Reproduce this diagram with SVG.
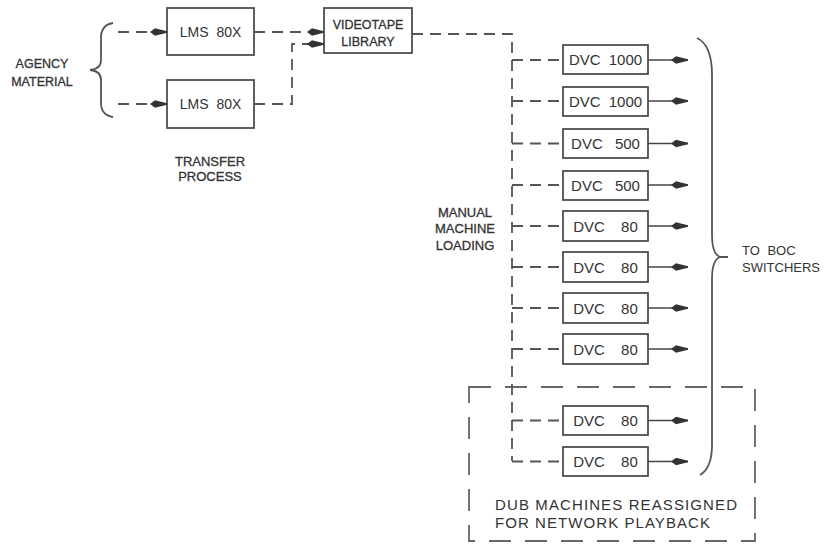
<svg xmlns="http://www.w3.org/2000/svg" width="824" height="544" viewBox="0 0 824 544">
<defs>
<marker id="ah" markerWidth="18" markerHeight="10" refX="17" refY="5" orient="auto" markerUnits="userSpaceOnUse">
<path d="M0,5 L5,1.3 L17,4.2 L17,5.8 L5,8.7 Z" fill="#333"/>
</marker>
</defs>
<style>
.box{fill:#fff;stroke:#444;stroke-width:1.7}
.t{font-family:"Liberation Sans",Arial,sans-serif;fill:#333}
.dl{fill:none;stroke:#555;stroke-width:1.8;stroke-dasharray:11 7}
.sl{fill:none;stroke:#444;stroke-width:1.6}
.br{fill:none;stroke:#555;stroke-width:1.8}
.grp{fill:none;stroke:#666;stroke-width:1.8;stroke-dasharray:22 14}
</style>
<rect width="824" height="544" fill="#fff"/>

<g id="agency">
<text class="t" x="42" y="68" font-size="12.5" text-anchor="middle" stroke="#333" stroke-width="0.3">AGENCY</text>
<text class="t" x="42" y="86" font-size="12.5" text-anchor="middle" stroke="#333" stroke-width="0.3">MATERIAL</text>
<path class="br" d="M113,23 Q101,25 101,38 L101,60 Q101,69 90,70 Q101,71 101,80 L101,103 Q101,115 113,117"/>
</g>

<g id="lms1">
<rect class="box" x="167" y="8" width="87" height="47"/>
<text class="t" x="210.5" y="37" font-size="14" text-anchor="middle" word-spacing="4">LMS 80X</text>
</g>
<g id="lms2">
<rect class="box" x="167" y="80" width="87" height="48"/>
<text class="t" x="210.5" y="109" font-size="14" text-anchor="middle" word-spacing="4">LMS 80X</text>
</g>
<g id="transfer">
<text class="t" x="210" y="166" font-size="13" text-anchor="middle" stroke="#333" stroke-width="0.3">TRANSFER</text>
<text class="t" x="210" y="181" font-size="13" text-anchor="middle" stroke="#333" stroke-width="0.3">PROCESS</text>
</g>
<g id="library">
<rect class="box" x="324" y="8" width="88" height="45"/>
<text class="t" x="368" y="29" font-size="12.5" text-anchor="middle" stroke="#333" stroke-width="0.3">VIDEOTAPE</text>
<text class="t" x="368" y="46" font-size="12.5" text-anchor="middle" stroke="#333" stroke-width="0.3">LIBRARY</text>
</g>
<g id="manual">
<text class="t" x="465" y="217" font-size="13" text-anchor="middle" stroke="#333" stroke-width="0.3">MANUAL</text>
<text class="t" x="465" y="233" font-size="13" text-anchor="middle" stroke="#333" stroke-width="0.3">MACHINE</text>
<text class="t" x="465" y="250" font-size="13" text-anchor="middle" stroke="#333" stroke-width="0.3">LOADING</text>
</g>

<g id="dvc1"><rect class="box" x="563" y="45" width="85" height="29"/><text class="t" x="605.5" y="65" font-size="15" text-anchor="middle" word-spacing="4">DVC 1000</text></g>
<g id="dvc2"><rect class="box" x="563" y="87" width="85" height="29"/><text class="t" x="605.5" y="107" font-size="15" text-anchor="middle" word-spacing="4">DVC 1000</text></g>
<g id="dvc3"><rect class="box" x="563" y="129" width="85" height="29"/><text class="t" x="605.5" y="149" font-size="15" text-anchor="middle" word-spacing="8">DVC 500</text></g>
<g id="dvc4"><rect class="box" x="563" y="171" width="85" height="29"/><text class="t" x="605.5" y="191" font-size="15" text-anchor="middle" word-spacing="8">DVC 500</text></g>
<g id="dvc5"><rect class="box" x="563" y="211" width="85" height="30"/><text class="t" x="605.5" y="231.5" font-size="15" text-anchor="middle" word-spacing="12">DVC 80</text></g>
<g id="dvc6"><rect class="box" x="563" y="252" width="85" height="30"/><text class="t" x="605.5" y="272.5" font-size="15" text-anchor="middle" word-spacing="12">DVC 80</text></g>
<g id="dvc7"><rect class="box" x="563" y="293" width="85" height="30"/><text class="t" x="605.5" y="313.5" font-size="15" text-anchor="middle" word-spacing="12">DVC 80</text></g>
<g id="dvc8"><rect class="box" x="563" y="334" width="85" height="30"/><text class="t" x="605.5" y="354.5" font-size="15" text-anchor="middle" word-spacing="12">DVC 80</text></g>
<g id="dvc9"><rect class="box" x="563" y="406" width="85" height="29"/><text class="t" x="605.5" y="426" font-size="15" text-anchor="middle" word-spacing="12">DVC 80</text></g>
<g id="dvc10"><rect class="box" x="563" y="447" width="85" height="29"/><text class="t" x="605.5" y="467" font-size="15" text-anchor="middle" word-spacing="12">DVC 80</text></g>

<g id="switchers">
<path class="br" d="M697,38 Q712,45 712,75 L712,235 Q712,254 720,257 L728,257 M720,257 Q712,260 712,279 L712,445 Q712,468 700,475"/>
<text class="t" x="742" y="255" font-size="13" word-spacing="4">TO BOC</text>
<text class="t" x="742" y="272" font-size="13">SWITCHERS</text>
</g>

<g id="dub">
<rect class="grp" x="469" y="387" width="286" height="154"/>
<text class="t" x="495" y="510" font-size="15" textLength="242" lengthAdjust="spacing">DUB MACHINES REASSIGNED</text>
<text class="t" x="495" y="528" font-size="15" textLength="215" lengthAdjust="spacing">FOR NETWORK PLAYBACK</text>
</g>

<g id="connectors">
<path class="dl" d="M118,32 H167" marker-end="url(#ah)"/>
<path class="dl" d="M118,104 H167" marker-end="url(#ah)"/>
<path class="dl" d="M254,32 H324" marker-end="url(#ah)"/>
<path class="dl" d="M254,104 H292 V44 H324" marker-end="url(#ah)"/>
<path class="dl" d="M412,34 H512 V461"/>
<path class="dl" d="M512,60 H563"/>
<path class="dl" d="M512,101 H563"/>
<path class="dl" d="M512,143.5 H563"/>
<path class="dl" d="M512,185 H563"/>
<path class="dl" d="M512,226 H563"/>
<path class="dl" d="M512,267 H563"/>
<path class="dl" d="M512,308 H563"/>
<path class="dl" d="M512,349 H563"/>
<path class="dl" d="M512,420.5 H563"/>
<path class="dl" d="M512,461.5 H563"/>
<path class="sl" d="M648,60 H688" marker-end="url(#ah)"/>
<path class="sl" d="M648,101 H688" marker-end="url(#ah)"/>
<path class="sl" d="M648,143.5 H688" marker-end="url(#ah)"/>
<path class="sl" d="M648,185 H688" marker-end="url(#ah)"/>
<path class="sl" d="M648,226 H688" marker-end="url(#ah)"/>
<path class="sl" d="M648,267 H688" marker-end="url(#ah)"/>
<path class="sl" d="M648,308 H688" marker-end="url(#ah)"/>
<path class="sl" d="M648,349 H688" marker-end="url(#ah)"/>
<path class="sl" d="M648,420.5 H688" marker-end="url(#ah)"/>
<path class="sl" d="M648,461.5 H688" marker-end="url(#ah)"/>
</g>
</svg>
